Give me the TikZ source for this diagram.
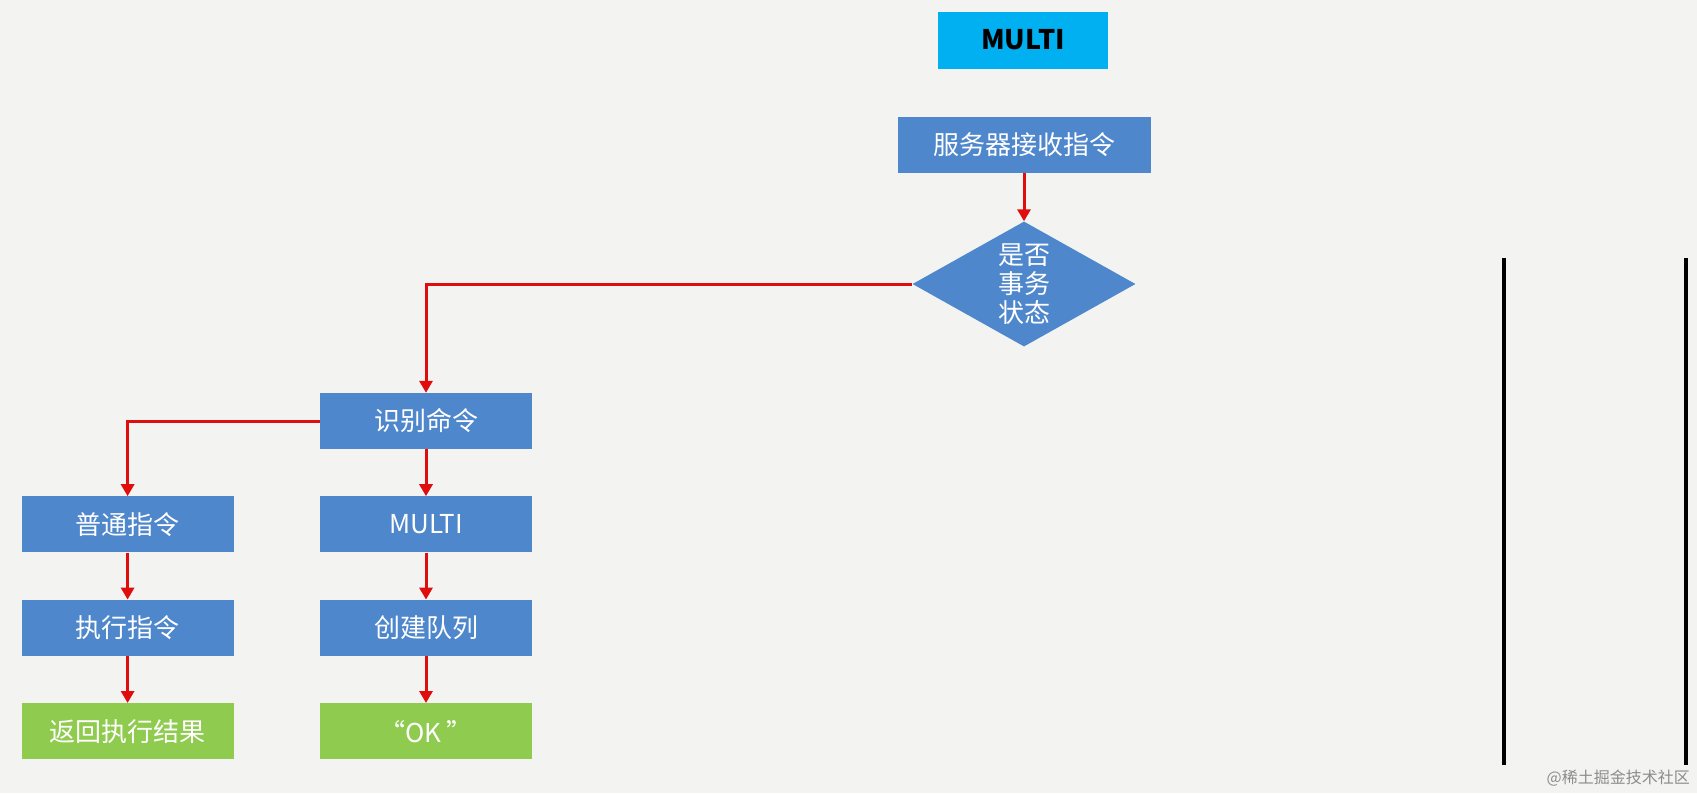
\documentclass[tikz,border=0pt]{standalone}
\usepackage{fontspec}
\setmainfont{Noto Sans CJK SC}
\usepackage{xcolor}
\usepackage{tikz}
\usetikzlibrary{shapes.geometric,arrows.meta,positioning}
\definecolor{canvas}{HTML}{F3F4F2}
\definecolor{stepblue}{HTML}{4F87CC}
\definecolor{headcyan}{HTML}{00B0F0}
\definecolor{donegreen}{HTML}{8FCB4E}
\definecolor{flowred}{HTML}{E00D0D}

\begin{document}
\begin{tikzpicture}[
    x=1pt,y=-1pt,
    node distance=47pt and 86pt,
    box/.style={fill=stepblue,text=white,minimum width=212pt,minimum height=56pt,inner sep=0pt,align=center,font=\fontsize{26}{30}\selectfont},
    headbox/.style={box,fill=headcyan,text=black,minimum width=170pt,minimum height=57pt,font=\fontsize{27}{30}\selectfont\bfseries},
    okbox/.style={box,fill=donegreen},
    decision/.style={diamond,fill=stepblue,text=white,aspect=1.78,inner sep=0pt,minimum width=223pt,minimum height=125pt,align=center,font=\fontsize{26}{29}\selectfont},
    arrow/.style={-{Triangle[length=12pt,width=13pt]},line width=3pt,draw=flowred},
    rail/.style={line width=4.5pt,black},
    wmark/.style={text=black!45,inner sep=0pt,anchor=east,font=\fontsize{16}{18}\selectfont}
  ]
    \fill[canvas] (0,0) rectangle (1697,793);
    \node[headbox] (title) at (1023,40) {MULTI};
    \node[box,minimum width=253pt] (recv) at (1024,145) {服务器接收指令};
    \node[decision] (check) at (1024,284) {是否\\事务\\状态};
    \node[box] (ident) at (426,421) {识别命令};
    \node[box,below=of ident] (multi) {MULTI};
    \node[box,left=of multi] (plain) {普通指令};
    \node[box,below=of multi] (queue) {创建队列};
    \node[box,below=of plain] (exec) {执行指令};
    \node[okbox,below=of queue] (ok) {“OK ”};
    \node[okbox,below=of exec] (result) {返回执行结果};
    \draw[arrow] (recv) -- (check);
    \draw[arrow] (check.west) -| (ident);
    \draw[arrow] (ident.west) -| (plain);
    \draw[arrow] (ident) -- (multi);
    \draw[arrow] (multi) -- (queue);
    \draw[arrow] (queue) -- (ok);
    \draw[arrow] (plain) -- (exec);
    \draw[arrow] (exec) -- (result);
    % side rails
    \coordinate (railAtop) at (1504,258);
    \coordinate (railAbot) at (1504,765);
    \coordinate (railBtop) at (1686,258);
    \coordinate (railBbot) at (1686,765);
    \draw[rail] (railAtop) -- (railAbot);
    \draw[rail] (railBtop) -- (railBbot);
    \node[wmark] (credit) at (1690,778) {@稀土掘金技术社区};
  \end{tikzpicture}
\end{document}
